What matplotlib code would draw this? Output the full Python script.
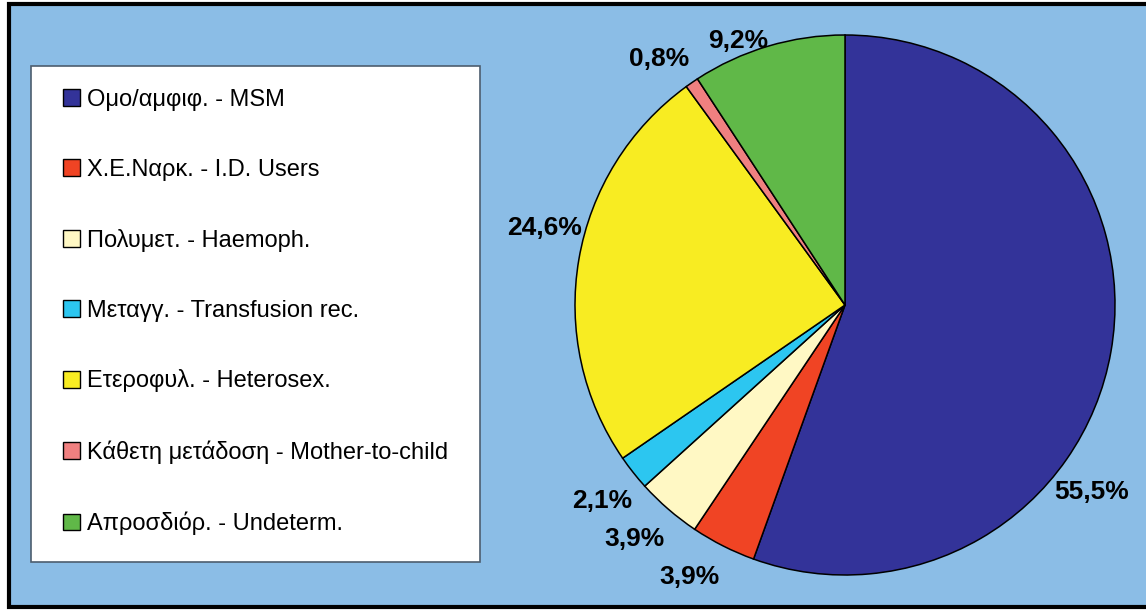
import matplotlib
matplotlib.use("Agg")
import matplotlib.pyplot as plt
from matplotlib.patches import Rectangle

# ---- data ----
categories = [
    "Ομο/αμφιφ. - MSM",
    "Χ.Ε.Ναρκ. - I.D. Users",
    "Πολυμετ. - Haemoph.",
    "Μεταγγ. - Transfusion rec.",
    "Ετεροφυλ. - Heterosex.",
    "Κάθετη μετάδοση - Mother-to-child",
    "Απροσδιόρ. - Undeterm.",
]
values = [55.5, 3.9, 3.9, 2.1, 24.6, 0.8, 9.2]
value_labels = ["55,5%", "3,9%", "3,9%", "2,1%", "24,6%", "0,8%", "9,2%"]
colors = ["#333399", "#F04424", "#FFF8C4", "#2CC6F0", "#F8EC22", "#F08080", "#60B848"]

# label positions (layout, in pie-radius units)
label_pos = [(0.915, -0.693), (-0.576, -1.007), (-0.781, -0.868), (-0.900, -0.727),
             (-1.111, 0.285), (-0.687, 0.91), (-0.395, 0.978)]

W, H = 1146, 610
plt.rcParams['font.family'] = ['Liberation Sans', 'DejaVu Sans']
fig = plt.figure(figsize=(W / 100, H / 100), dpi=100, facecolor="white")

def fx(px):
    return px / W

def fy(py):
    return 1 - py / H

# background frame
fig.add_artist(Rectangle((fx(9), fy(607)), fx(1170) - fx(9), fy(4) - fy(607),
                         transform=fig.transFigure, facecolor="#8BBDE6",
                         edgecolor="black", linewidth=3.0, zorder=0))
# legend box
fig.add_artist(Rectangle((fx(31), fy(562)), fx(480) - fx(31), fy(66) - fy(562),
                         transform=fig.transFigure, facecolor="white",
                         edgecolor="#4d5e6e", linewidth=1.2, zorder=1))

# pie axes: center (845,305), radius 270 px
cx, cy, R = 845, 305, 270
ax = fig.add_axes([fx(cx - R), fy(cy + R), (2 * R) / W, (2 * R) / H])
ax.axis("off")
ax.patch.set_alpha(0)

wedges, _ = ax.pie(values, colors=colors, startangle=90, counterclock=False,
                   radius=1, wedgeprops=dict(edgecolor="black", linewidth=1.1))
ax.set_xlim(-1, 1)
ax.set_ylim(-1, 1)
ax.set_aspect("auto")

for txt, (x, y) in zip(value_labels, label_pos):
    ax.text(x, y, txt, ha="center", va="center", fontsize=19, fontweight="bold",
            color="black", clip_on=False)

leg = fig.legend(wedges, categories, loc="center left",
                 bbox_to_anchor=(fx(63), fy(312)), frameon=False,
                 fontsize=17, labelspacing=2.03, handlelength=0.72,
                 handleheight=0.72, handletextpad=0.28, borderpad=0,
                 borderaxespad=0)
for h in leg.legend_handles:
    h.set_linewidth(1.0)
    h.set_edgecolor("black")
leg.set_zorder(5)

fig.savefig("out.png", dpi=100, facecolor="white")
